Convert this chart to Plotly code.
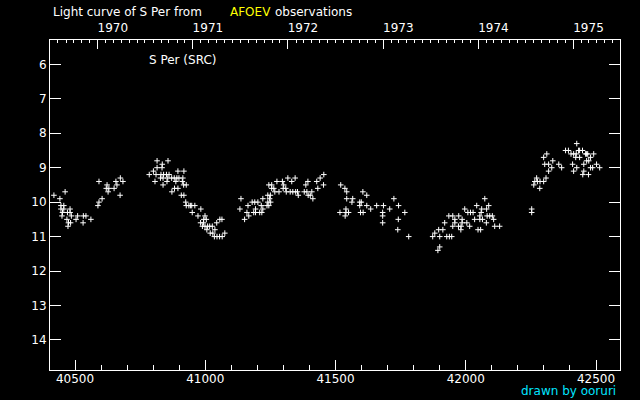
import datetime as dt
import plotly.graph_objects as go

# Observations: Julian Date - 2400000 and visual magnitude
jd = [
    40419, 40442, 40462, 40446, 40457, 40446, 40457, 40481, 40452, 40471, 40481, 40450,
    40486, 40510, 40532, 40542, 40469, 40504, 40561, 40475, 40483, 40531, 40473,
    40592, 40623, 40620, 40630, 40627, 40657, 40661, 40674, 40684, 40650, 40673, 40604,
    40592, 40588,
    40815, 40857, 40835, 40834, 40815, 40801, 40785, 40811, 40830, 40840, 40851, 40861,
    40895, 40918, 40828, 40838, 40856, 40871, 40881, 40891, 40899, 40914, 40807, 40853,
    40887, 40912, 40838, 40917, 40927, 40882, 40895, 40872, 40908, 40918, 40925, 40927,
    40937, 40943, 40948, 40960, 40983, 40950, 40972, 40999, 40994, 41004, 41056, 41064,
    40982, 40993, 41044, 40989, 40999, 41009, 41017, 41027, 41006, 41037, 41019, 41029,
    41075, 41035, 41045, 41055, 41065,
    41137, 41133, 41151, 41164, 41180, 41190, 41202, 41193, 41160, 41186, 41193, 41209,
    41217, 41167, 41215, 41221, 41221, 41237, 41244, 41240, 41251, 41247, 41240, 41250,
    41244, 41255, 41255, 41263, 41267, 41283, 41275, 41296, 41301, 41299, 41309, 41311,
    41317, 41332, 41345, 41326, 41336, 41347, 41354, 41357, 41380, 41390, 41386, 41394,
    41395, 41403, 41409, 41413, 41428, 41432, 41441, 41454, 41455,
    41520, 41536, 41543, 41543, 41566, 41563, 41540, 41517, 41540, 41550, 41537, 41593,
    41599, 41593, 41605, 41620, 41620, 41596, 41606, 41635, 41658, 41684, 41681, 41681,
    41708, 41724, 41742, 41741, 41681, 41766, 41739, 41781,
    41873, 41881, 41893, 41900, 41900, 41896, 41912, 41919, 41927, 41937, 41946, 41935,
    41950, 41950, 41958, 41958, 41973, 41972, 41982, 41981, 41986, 41986, 41996, 42004,
    42008, 42018, 42028, 42015, 42034, 42042, 42047, 42057, 42054, 42054, 42064, 42061,
    42059, 42073, 42080, 42079, 42082, 42092, 42102, 42088, 42107, 42111, 42130,
    42253, 42253, 42261, 42265, 42275, 42285, 42272, 42284, 42299, 42308, 42299, 42311,
    42303, 42318, 42318, 42330, 42334, 42357, 42368, 42383, 42394, 42404, 42414, 42424,
    42426, 42433, 42437, 42448, 42422, 42437, 42410, 42426, 42414, 42449, 42453, 42453,
    42460, 42464, 42468, 42464, 42472, 42471, 42479, 42479, 42487, 42491, 42502, 42514,
]
mag = [
    9.8, 9.9, 9.7, 10.1, 10.1, 10.2, 10.2, 10.2, 10.3, 10.3, 10.3, 10.4,
    10.4, 10.4, 10.4, 10.4, 10.5, 10.5, 10.5, 10.6, 10.6, 10.6, 10.7,
    9.4, 9.5, 9.6, 9.6, 9.7, 9.4, 9.5, 9.3, 9.4, 9.6, 9.8, 9.9,
    10.0, 10.1,
    8.8, 8.8, 8.9, 9.0, 9.0, 9.1, 9.2, 9.2, 9.2, 9.2, 9.2, 9.2,
    9.1, 9.1, 9.3, 9.3, 9.3, 9.3, 9.3, 9.3, 9.3, 9.3, 9.4, 9.4,
    9.4, 9.4, 9.5, 9.5, 9.5, 9.6, 9.6, 9.7, 9.8, 9.8, 10.0, 10.1,
    10.1, 10.1, 10.1, 10.1, 10.2, 10.3, 10.4, 10.4, 10.5, 10.5, 10.5, 10.5,
    10.6, 10.6, 10.6, 10.7, 10.7, 10.7, 10.7, 10.7, 10.8, 10.8, 10.9, 10.9,
    10.9, 11.0, 11.0, 11.0, 11.0,
    9.9, 10.2, 10.5, 10.1, 10.0, 10.0, 10.0, 10.2, 10.3, 10.3, 10.3, 10.3,
    10.3, 10.4, 10.1, 10.2, 9.9, 10.1, 10.1, 10.0, 10.0, 9.9, 9.8, 9.8,
    9.5, 9.5, 9.6, 9.6, 9.7, 9.7, 9.4, 9.4, 9.5, 9.6, 9.6, 9.7,
    9.3, 9.4, 9.3, 9.7, 9.7, 9.7, 9.7, 9.8, 9.7, 9.7, 9.5, 9.4,
    9.8, 9.8, 9.7, 9.9, 9.4, 9.6, 9.3, 9.5, 9.2,
    9.5, 9.6, 9.7, 9.9, 9.9, 10.0, 10.2, 10.3, 10.3, 10.3, 10.4, 10.0,
    10.0, 10.1, 9.7, 9.8, 10.1, 10.3, 10.3, 10.2, 10.1, 10.1, 10.3, 10.4,
    10.2, 9.9, 10.1, 10.5, 10.6, 10.3, 10.8, 11.0,
    11.0, 10.9, 11.4, 11.3, 11.0, 10.8, 10.8, 10.6, 11.0, 11.0, 11.0, 10.4,
    10.4, 10.7, 10.5, 10.6, 10.4, 10.7, 10.7, 10.8, 10.5, 10.6, 10.2, 10.6,
    10.3, 10.3, 10.3, 10.7, 10.5, 10.1, 10.8, 10.8, 10.4, 10.5, 10.5, 10.2,
    10.3, 9.9, 10.2, 10.6, 10.4, 10.4, 10.4, 10.1, 10.5, 10.7, 10.7,
    10.2, 10.3, 9.5, 9.4, 9.4, 9.4, 9.3, 9.6, 9.4, 9.3, 8.7, 8.6,
    8.9, 8.9, 9.1, 9.0, 8.8, 8.9, 9.0, 8.5, 8.5, 8.6, 8.6, 8.6,
    8.3, 8.5, 8.5, 8.5, 8.7, 8.7, 8.9, 9.0, 9.1, 9.2, 9.1, 8.9,
    8.6, 8.6, 8.6, 8.8, 8.8, 9.2, 8.7, 9.0, 9.0, 8.6, 8.9, 9.0,
]

years = [1970, 1971, 1972, 1973, 1974, 1975]
jd_ticks = [40500, 41000, 41500, 42000, 42500]
mag_ticks = [6, 7, 8, 9, 10, 11, 12, 13, 14]

EPOCH = dt.date(1858, 11, 17)  # MJD 0


def to_jd(d):
    return (d - EPOCH).days + 0.5


year_vals = [to_jd(dt.date(y, 1, 1)) for y in years]
month_vals = [to_jd(dt.date(y, m, 1)) for y in range(1969, 1976) for m in range(1, 13)]

X_RANGE = [40404, 42592]
Y_RANGE = [14.873, 5.293]
FONT = "DejaVu Sans"

fig = go.Figure()
fig.add_trace(go.Scatter(
    x=jd, y=mag, mode="markers",
    marker=dict(symbol="cross-thin", size=4, line=dict(color="white", width=1)),
    showlegend=False, hoverinfo="x+y",
))
fig.add_trace(go.Scatter(x=[], y=[], xaxis="x2", yaxis="y", showlegend=False))

fig.update_layout(
    width=640, height=400,
    paper_bgcolor="black", plot_bgcolor="black",
    margin=dict(l=50, r=20, t=40, b=30),
    font=dict(family=FONT, size=12, color="white"),
    xaxis=dict(
        range=X_RANGE, showgrid=False, zeroline=False,
        showline=True, linecolor="white", linewidth=1, mirror=True,
        tickmode="array", tickvals=jd_ticks, ticktext=[str(v) for v in jd_ticks],
        ticks="inside", ticklen=10, tickwidth=1, tickcolor="white",
        minor=dict(dtick=100, tick0=40500, ticks="inside", ticklen=5,
                   tickcolor="white", tickwidth=1, showgrid=False),
        ticklabelstandoff=-2,
        tickfont=dict(size=12, color="white"),
    ),
    xaxis2=dict(
        range=X_RANGE, overlaying="x", side="top", anchor="y",
        showgrid=False, zeroline=False, showline=True, linecolor="white", linewidth=1,
        tickmode="array", tickvals=year_vals, ticktext=[str(y) for y in years],
        ticks="inside", ticklen=9, tickwidth=1, tickcolor="white",
        minor=dict(tickmode="array", tickvals=month_vals, ticks="inside", ticklen=3,
                   tickcolor="white", tickwidth=1, showgrid=False),
        ticklabelshift=15, ticklabelstandoff=2,
        tickfont=dict(size=12, color="white"),
    ),
    yaxis=dict(
        range=Y_RANGE, showgrid=False, zeroline=False,
        showline=True, linecolor="white", linewidth=1, mirror="ticks",
        tickmode="array", tickvals=mag_ticks,
        ticks="inside", ticklen=11, tickwidth=1, tickcolor="white",
        tickfont=dict(size=12, color="white"),
    ),
)

TITLE_Y = (370 - 12) / 330
fig.add_annotation(text="Light curve of S Per from", xref="paper", yref="paper",
                   x=1 / 570, y=TITLE_Y, xanchor="left", yanchor="middle",
                   showarrow=False, font=dict(color="white", size=12))
fig.add_annotation(text="AFOEV", xref="paper", yref="paper",
                   x=(228 - 50) / 570, y=TITLE_Y, xanchor="left", yanchor="middle",
                   showarrow=False, font=dict(color="#ffff00", size=12))
fig.add_annotation(text="observations", xref="paper", yref="paper",
                   x=(273 - 50) / 570, y=TITLE_Y, xanchor="left", yanchor="middle",
                   showarrow=False, font=dict(color="white", size=12))
fig.add_annotation(text="S Per (SRC)", xref="paper", yref="paper",
                   x=(147 - 50) / 570, y=(370 - 60) / 330, xanchor="left", yanchor="middle",
                   showarrow=False, font=dict(color="white", size=12))
fig.add_annotation(text="drawn by ooruri", xref="paper", yref="paper",
                   x=(618 - 50) / 570, y=(370 - 391) / 330, xanchor="right", yanchor="middle",
                   showarrow=False, font=dict(color="#00e5ff", size=12))

fig.write_html(
    "out.html",
    config={"displayModeBar": False},
    post_script="document.body.style.margin='0';document.body.style.padding='0';",
)
